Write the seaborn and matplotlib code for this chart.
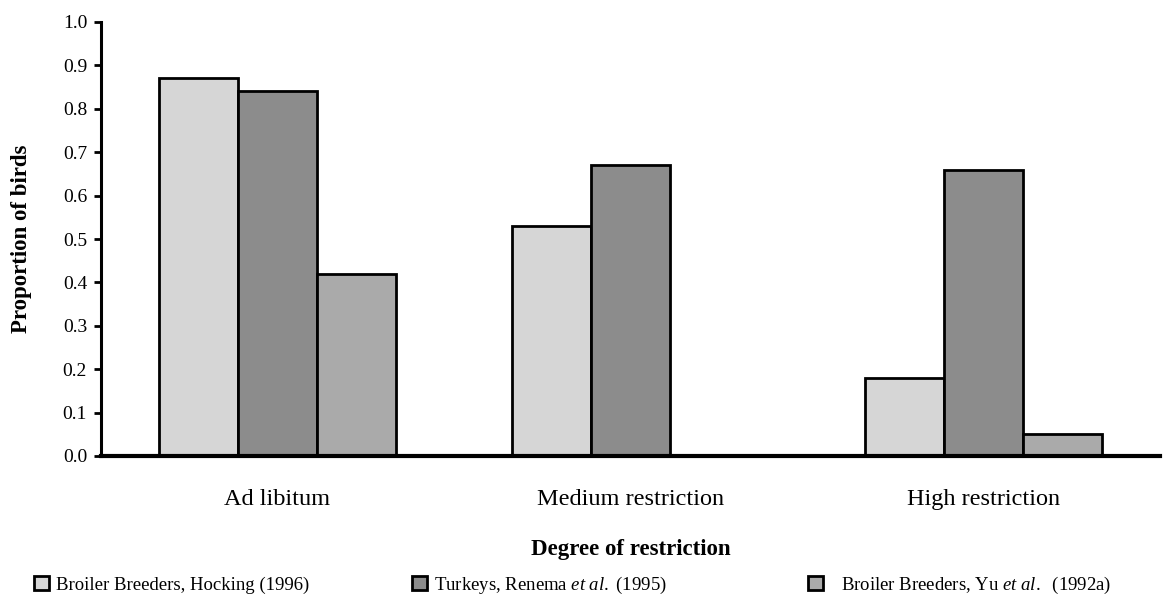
import matplotlib
matplotlib.use("Agg")
import matplotlib.pyplot as plt
import numpy as np
import pandas as pd
import seaborn as sns

# Proportion of birds by degree of feed restriction, three studies
categories = ["Ad libitum", "Medium restriction", "High restriction"]
series = [
    "Broiler Breeders, Hocking (1996)",
    "Turkeys, Renema $\\it{et\\ al.}$ (1995)",
    "Broiler Breeders, Yu $\\it{et\\ al.}$  (1992a)",
]
hocking = [0.87, 0.53, 0.18]
renema = [0.84, 0.67, 0.66]
yu = [0.42, None, 0.05]
y_ticks = [0.0, 0.1, 0.2, 0.3, 0.4, 0.5, 0.6, 0.7, 0.8, 0.9, 1.0]

colors = ["#d6d6d6", "#8c8c8c", "#aaaaaa"]

rows = []
for name, vals in zip(series, [hocking, renema, yu]):
    for cat, v in zip(categories, vals):
        if v is not None:
            rows.append({"Degree": cat, "Study": name, "Proportion": v})
df = pd.DataFrame(rows)

sns.set_style("white")
plt.rcParams["font.family"] = ["Liberation Serif", "DejaVu Serif"]
plt.rcParams["mathtext.fontset"] = "custom"
plt.rcParams["mathtext.rm"] = "Liberation Serif"
plt.rcParams["mathtext.it"] = "Liberation Serif:italic"
for key in ["text.color", "axes.labelcolor", "xtick.color", "ytick.color"]:
    plt.rcParams[key] = "black"

fig = plt.figure(figsize=(11.64, 6.05), dpi=100)
ax = fig.add_axes([101 / 1164, 1 - 456 / 605, 1059 / 1164, 434 / 605])

sns.barplot(
    data=df, x="Degree", y="Proportion", hue="Study",
    order=categories, hue_order=series, palette=colors,
    width=0.67, edgecolor="black", linewidth=2.0, saturation=1,
    errorbar=None, ax=ax,
)

handles, labels = ax.get_legend_handles_labels()
if ax.get_legend() is not None:
    ax.get_legend().remove()

ax.set_xlim(-0.5, 2.5)
ax.set_ylim(0, 1.0)
ax.set_yticks(y_ticks)
ax.set_yticklabels([f"{t:.1f}" for t in y_ticks], fontsize=14)

ax.set_xticks(range(len(categories)))
ax.set_xticklabels(categories, fontsize=17.5)
ax.set_xticks([-0.5, 0.5, 1.5, 2.5], minor=True)
ax.tick_params(axis="x", which="major", length=0, pad=24)
ax.tick_params(axis="x", which="minor", length=6, width=2, direction="out", color="black")
ax.tick_params(axis="y", which="major", length=5, width=2, direction="out", pad=5,
               color="black", left=True)

for s in ["top", "right"]:
    ax.spines[s].set_visible(False)
ax.spines["left"].set_linewidth(2.2)
ax.spines["bottom"].set_linewidth(3.0)
ax.spines["left"].set_color("black")
ax.spines["bottom"].set_color("black")

ax.set_xlabel("Degree of restriction", fontsize=16.5, fontweight="bold", labelpad=21)
ax.set_ylabel("Proportion of birds", fontsize=16.5, fontweight="bold", labelpad=22)

# legend entries laid out along the bottom edge
legend_x = [34, 412, 808]
text_pads = [0.35, 0.35, 0.95]
for h, lab, x, tp in zip(handles, labels, legend_x, text_pads):
    fig.legend(
        handles=[h], labels=[lab], loc="center left",
        bbox_to_anchor=(x / 1164, 1 - 585 / 605), frameon=False,
        fontsize=13.5, handlelength=0.8, handleheight=0.8,
        handletextpad=tp, borderpad=0, borderaxespad=0,
    )

fig.savefig("out.png", dpi=100, facecolor="white")
